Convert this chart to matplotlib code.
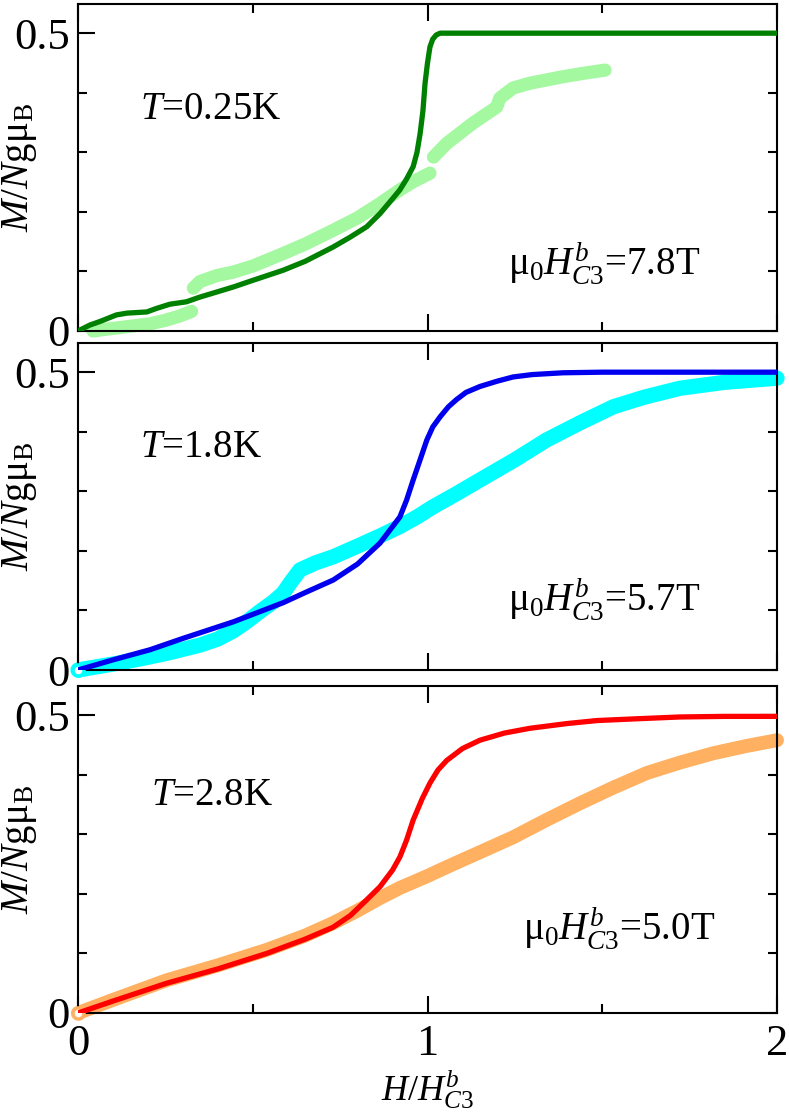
import matplotlib
matplotlib.use("Agg")
import matplotlib.pyplot as plt
from matplotlib.ticker import MultipleLocator

plt.rcParams['font.family'] = ['Liberation Serif', 'DejaVu Serif']
plt.rcParams['mathtext.fontset'] = 'custom'
plt.rcParams['mathtext.rm'] = 'Liberation Serif'
plt.rcParams['mathtext.it'] = 'Liberation Serif:italic'
plt.rcParams['mathtext.bf'] = 'Liberation Serif:bold'

# ---------------- data ----------------
# Panel 1: T = 0.25 K
theory1_x = [0, 0.034, 0.063, 0.11, 0.14, 0.197, 0.225, 0.263, 0.31, 0.349, 0.40, 0.445, 0.5, 0.587,
             0.65, 0.73, 0.78, 0.826, 0.864, 0.9, 0.921, 0.94, 0.959, 0.97, 0.979, 0.987, 0.993,
             1.0, 1.007, 1.015, 1.025, 1.036, 1.06, 1.2, 1.5, 2.0]
theory1_y = [0, 0.010, 0.016, 0.027, 0.030, 0.032, 0.038, 0.045, 0.049, 0.057, 0.066, 0.074, 0.085, 0.102,
             0.117, 0.141, 0.158, 0.175, 0.197, 0.222, 0.237, 0.255, 0.276, 0.300, 0.332, 0.37, 0.416,
             0.45, 0.477, 0.49, 0.497, 0.5, 0.5, 0.5, 0.5, 0.5]
exp1a_x = [0.043, 0.08, 0.11, 0.15, 0.206, 0.25, 0.29, 0.325]
exp1a_y = [0.0, 0.003, 0.005, 0.008, 0.012, 0.018, 0.025, 0.033]
exp1b_x = [0.33, 0.349, 0.397, 0.445, 0.5, 0.587, 0.65, 0.73, 0.8, 0.864, 0.921, 0.96, 1.007]
exp1b_y = [0.072, 0.083, 0.093, 0.099, 0.109, 0.13, 0.146, 0.169, 0.19, 0.214, 0.237, 0.251, 0.265]
exp1c_x = [1.017, 1.055, 1.13, 1.198, 1.207, 1.245, 1.293, 1.388, 1.45, 1.508]
exp1c_y = [0.292, 0.315, 0.349, 0.376, 0.391, 0.408, 0.416, 0.427, 0.433, 0.438]

# Panel 2: T = 1.8 K
theory2_x = [0, 0.1, 0.206, 0.3, 0.445, 0.587, 0.65, 0.73, 0.8, 0.864, 0.921, 0.94, 0.959, 0.98,
             0.998, 1.015, 1.036, 1.06, 1.083, 1.11, 1.15, 1.2, 1.245, 1.3, 1.388, 1.5, 1.7, 2.0]
theory2_y = [0, 0.017, 0.034, 0.053, 0.081, 0.113, 0.13, 0.151, 0.178, 0.213, 0.257, 0.285, 0.319, 0.355,
             0.386, 0.408, 0.425, 0.442, 0.454, 0.466, 0.476, 0.485, 0.492, 0.496, 0.499, 0.5, 0.5, 0.5]
exp2_x = [0, 0.05, 0.11, 0.18, 0.254, 0.35, 0.40, 0.445, 0.48, 0.52, 0.56, 0.587, 0.607, 0.635, 0.68,
          0.73, 0.8, 0.864, 0.921, 0.97, 1.016, 1.08, 1.15, 1.25, 1.34, 1.44, 1.532, 1.62, 1.722, 1.85, 2.0]
exp2_y = [0, 0.005, 0.011, 0.019, 0.028, 0.042, 0.052, 0.066, 0.08, 0.098, 0.115, 0.129, 0.146, 0.168, 0.18,
          0.19, 0.208, 0.225, 0.241, 0.257, 0.274, 0.295, 0.319, 0.353, 0.386, 0.416, 0.442, 0.458, 0.473, 0.483, 0.49]

# Panel 3: T = 2.8 K
theory3_x = [0, 0.1, 0.254, 0.4, 0.54, 0.65, 0.73, 0.78, 0.826, 0.864, 0.9, 0.921, 0.94, 0.959, 0.985,
             1.007, 1.03, 1.055, 1.1, 1.15, 1.22, 1.293, 1.4, 1.485, 1.6, 1.722, 1.85, 2.0]
theory3_y = [0, 0.02, 0.05, 0.074, 0.1, 0.124, 0.144, 0.164, 0.19, 0.212, 0.24, 0.262, 0.29, 0.324, 0.36,
             0.386, 0.408, 0.424, 0.444, 0.458, 0.47, 0.478, 0.486, 0.491, 0.494, 0.497, 0.498, 0.498]
exp3_x = [0, 0.1, 0.254, 0.4, 0.54, 0.65, 0.73, 0.8, 0.864, 0.921, 1.0, 1.055, 1.15, 1.245, 1.34, 1.436,
          1.53, 1.628, 1.72, 1.817, 1.91, 2.0]
exp3_y = [0, 0.022, 0.055, 0.08, 0.106, 0.13, 0.151, 0.172, 0.193, 0.21, 0.23, 0.245, 0.27, 0.295, 0.324,
          0.352, 0.378, 0.403, 0.42, 0.436, 0.448, 0.458]

temps = ['0.25', '1.8', '2.8']
hc3 = ['7.8', '5.7', '5.0']

# ---------------- figure ----------------
W, H = 789, 1112
fig = plt.figure(figsize=(W / 100, H / 100), dpi=100)
left, right = 78 / W, 777 / W
panels_px = [(4, 331), (343, 670), (686, 1013)]
axes = []
for top, bot in panels_px:
    ax = fig.add_axes([left, 1 - bot / H, right - left, (bot - top) / H])
    axes.append(ax)

thin_lw = 3.8

c_dg, c_lg = '#008000', '#a4f8a0'
c_b, c_c = '#0000ee', '#00ffff'
c_r, c_o = '#ff0000', '#ffb060'

ax = axes[0]
for xs, ys in [(exp1a_x, exp1a_y), (exp1b_x, exp1b_y), (exp1c_x, exp1c_y)]:
    ax.plot(xs, ys, color=c_lg, lw=9.5, solid_capstyle='round', solid_joinstyle='round', clip_on=False, zorder=2)
ax.plot(theory1_x, theory1_y, color=c_dg, lw=thin_lw, solid_joinstyle='round', zorder=3)

ax = axes[1]
ax.plot(exp2_x, exp2_y, color=c_c, lw=11, solid_capstyle='round', solid_joinstyle='round', clip_on=False, zorder=2)
ax.plot([exp2_x[0]], [exp2_y[0]], 'o', ms=8, mfc='white', mec=c_c, mew=2.5, clip_on=False, zorder=3)
ax.plot(theory2_x, theory2_y, color=c_b, lw=thin_lw, solid_joinstyle='round', zorder=4)

ax = axes[2]
ax.plot(exp3_x, exp3_y, color=c_o, lw=10, solid_capstyle='round', solid_joinstyle='round', clip_on=False, zorder=2)
ax.plot([exp3_x[0]], [exp3_y[0]], 'o', ms=8, mfc='white', mec=c_o, mew=2.5, clip_on=False, zorder=3)
ax.plot(theory3_x, theory3_y, color=c_r, lw=thin_lw, solid_joinstyle='round', zorder=4)

t_pos = [(0.177, 0.356), (0.177, 0.358), (0.21, 0.349)]
h_pos = [(1.23, 0.094), (1.23, 0.098), (1.273, 0.122)]

for i, ax in enumerate(axes):
    ax.set_xlim(0, 2)
    ax.set_ylim(0, 0.549)
    ax.xaxis.set_major_locator(MultipleLocator(1))
    ax.xaxis.set_minor_locator(MultipleLocator(0.5))
    ax.yaxis.set_major_locator(MultipleLocator(0.5))
    ax.yaxis.set_minor_locator(MultipleLocator(0.1))
    ax.tick_params(which='both', direction='in', top=True, right=True, width=1.5)
    ax.tick_params(which='major', length=12.5, labelsize=32, pad=6)
    ax.tick_params(which='minor', length=6.5)
    for s in ax.spines.values():
        s.set_linewidth(1.5)
    ax.set_yticks([0, 0.5])
    ax.set_yticklabels(['0', '0.5'])
    ax.set_ylabel('$M/N$g' + 'μ' + r'$_{\mathrm{B}}$', fontsize=28)
    ax.yaxis.set_label_coords(-0.056, 0.5)
    ax.text(t_pos[i][0], t_pos[i][1], r'$T$=' + temps[i] + 'K', fontsize=28)
    ax.text(h_pos[i][0], h_pos[i][1], 'μ' + r'$_0H^{b}_{\mathit{C3}}$=' + hc3[i] + 'T', fontsize=28)
    if i < 2:
        ax.tick_params(labelbottom=False)

axes[2].set_xticks([0, 1, 2])
axes[2].set_xticklabels(['0', '1', '2'])
axes[2].tick_params(axis='x', which='major', pad=8)
axes[2].set_xlabel(r'$H/H^{b}_{\mathit{C3}}$', fontsize=26)
axes[2].xaxis.set_label_coords(0.5, -0.168)

fig.savefig('out.png', dpi=100)
